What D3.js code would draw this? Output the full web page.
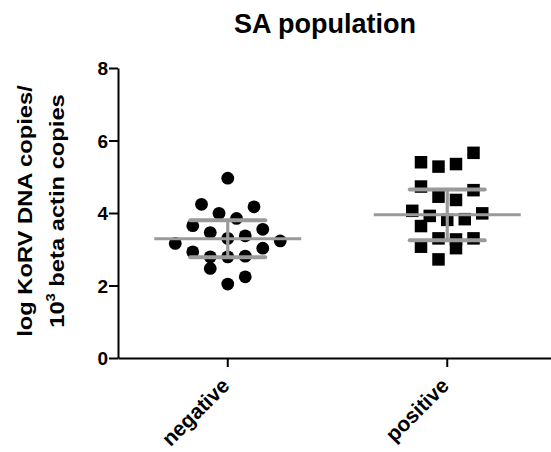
<!DOCTYPE html>
<html>
<head>
<meta charset="utf-8">
<script src="https://cdn.jsdelivr.net/npm/d3@7"></script>
<style>
  body { margin: 0; background: #fff; }
  text { font-family: Arial, "Liberation Sans", sans-serif; font-weight: bold; }
</style>
</head>
<body>
<div id="chart"></div>
<script>
// groups
let groups = ['negative', 'positive'];

// values, with a horizontal slot (scatter column) per point
let negValues = [4.96, 4.24, 4.17, 3.99, 3.85, 3.65, 3.55, 3.46, 3.37, 3.30,
                 3.16, 3.23, 2.93, 2.79, 2.79, 2.81, 3.03, 2.47, 2.24, 2.04];
let negSlots  = [0, -3, 3, -1, 1, -4, 4, -2, 2, 0,
                 -6, 6, -4, -2, 0, 2, 4, -2, 2, 0];

let posValues = [5.66, 5.40, 5.28, 5.35, 4.73, 4.63, 4.45, 4.36, 4.06, 3.92,
                 3.99, 3.64, 3.81, 3.83, 3.30, 3.27, 3.30, 3.07, 3.03, 2.72];
let posSlots  = [3, -3, -1, 1, -3, 3, -1, 1, -4, -2,
                 4, -3, 0, 2, -1, 1, 3, -3, 1, -1];

// mean and SD for each group
let means = [3.29, 3.95];
let sds = [0.51, 0.70];

let yTicks = [0, 2, 4, 6, 8];

let width = 551,
    height = 452;

let margin = {top: 68, bottom: 94, left: 118, right: -6};

let svg = d3.select('#chart')
  .append('svg')
  .attr('width', width)
  .attr('height', height);

// scales
let yScale = d3.scaleLinear()
  .domain([0, 8])
  .range([height - margin.bottom, margin.top]);

let xScale = d3.scaleBand()
  .domain(groups)
  .range([margin.left, width - margin.right]);

let slotScale = d3.scaleLinear()
  .domain([-6, 6])
  .range([-52.5, 52.5]);

let cx = g => xScale(g) + xScale.bandwidth() / 2;

// title
svg.append('text')
  .attr('x', 325)
  .attr('y', 33)
  .attr('text-anchor', 'middle')
  .style('font-size', '27px')
  .text('SA population');

// y axis
let yAxis = svg.append('g')
  .attr('transform', `translate(${margin.left},0)`)
  .call(d3.axisLeft(yScale).tickValues(yTicks).tickSize(9).tickSizeOuter(0).tickPadding(1));
yAxis.selectAll('path, line').attr('stroke', '#000').attr('stroke-width', 2);
yAxis.selectAll('text').style('font-size', '19px').attr('fill', '#000').attr('dy', '0.36em');

// x axis
let xAxis = svg.append('g')
  .attr('transform', `translate(0,${height - margin.bottom})`)
  .call(d3.axisBottom(xScale).tickSize(9).tickSizeOuter(0));
xAxis.selectAll('path, line').attr('stroke', '#000').attr('stroke-width', 2);
xAxis.selectAll('text')
  .style('font-size', '21px')
  .attr('fill', '#000')
  .style('text-anchor', 'end')
  .attr('x', 0).attr('y', 0).attr('dy', 0)
  .attr('transform', 'translate(3,29) rotate(-45)');

// y label (a bit stretched along its reading direction like the original)
let yLabel = svg.append('text')
  .attr('transform', 'translate(32,211) rotate(-90) scale(1.13,1)')
  .attr('text-anchor', 'middle')
  .style('font-size', '21px');
yLabel.append('tspan').attr('x', 0).attr('y', 0).text('log KoRV DNA copies/');
let line2 = yLabel.append('tspan').attr('x', 0).attr('y', 32);
line2.append('tspan').text('10');
line2.append('tspan').attr('dy', -9).style('font-size', '13px').text('3');
line2.append('tspan').attr('dy', 9).text(' beta actin copies');

// points
let negData = negValues.map((v, i) => ({group: 'negative', value: v, slot: negSlots[i]}));
let posData = posValues.map((v, i) => ({group: 'positive', value: v, slot: posSlots[i]}));

svg.selectAll('circle.pt')
  .data(negData)
  .enter()
  .append('circle')
  .attr('class', 'pt')
  .attr('cx', d => cx(d.group) + slotScale(d.slot))
  .attr('cy', d => yScale(d.value))
  .attr('r', 6.4)
  .attr('fill', '#000');

let sq = 12.5;
svg.selectAll('rect.pt')
  .data(posData)
  .enter()
  .append('rect')
  .attr('class', 'pt')
  .attr('x', d => cx(d.group) + slotScale(d.slot) - sq / 2)
  .attr('y', d => yScale(d.value) - sq / 2)
  .attr('width', sq)
  .attr('height', sq)
  .attr('fill', '#000');

// mean and SD bars
let stats = groups.map((g, i) => ({group: g, mean: means[i], sd: sds[i]}));
let grey = '#9a9a9a';

let bars = svg.selectAll('g.stat')
  .data(stats)
  .enter()
  .append('g')
  .attr('class', 'stat')
  .attr('stroke', grey)
  .attr('stroke-linecap', 'round');

bars.append('line')
  .attr('x1', d => cx(d.group))
  .attr('x2', d => cx(d.group))
  .attr('y1', d => yScale(d.mean + d.sd))
  .attr('y2', d => yScale(d.mean - d.sd))
  .attr('stroke-width', 3.2);

bars.selectAll('line.cap')
  .data(d => [d.mean + d.sd, d.mean - d.sd].map(v => ({group: d.group, v: v})))
  .enter()
  .append('line')
  .attr('class', 'cap')
  .attr('x1', d => cx(d.group) - 37.5)
  .attr('x2', d => cx(d.group) + 37.5)
  .attr('y1', d => yScale(d.v))
  .attr('y2', d => yScale(d.v))
  .attr('stroke-width', 4);

bars.append('line')
  .attr('x1', d => cx(d.group) - 73.5)
  .attr('x2', d => cx(d.group) + 73.5)
  .attr('y1', d => yScale(d.mean))
  .attr('y2', d => yScale(d.mean))
  .attr('stroke-width', 3)
  .attr('stroke-linecap', 'butt');
</script>
</body>
</html>
